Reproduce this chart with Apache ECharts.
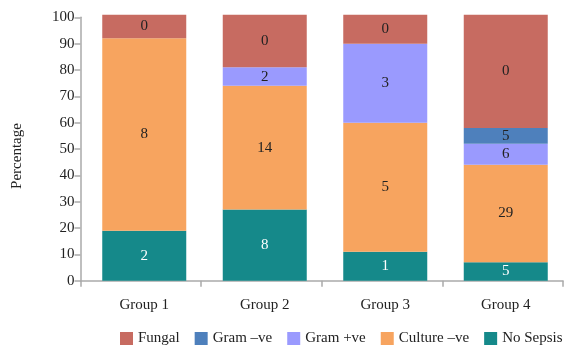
<!DOCTYPE html>
<html>
<head>
<meta charset="utf-8">
<script src="https://cdn.jsdelivr.net/npm/echarts@6/dist/echarts.min.js"></script>
<style>
  html, body { margin: 0; padding: 0; background: #fff; }
  #chart { width: 566px; height: 348px; }
</style>
</head>
<body>
<div id="chart"></div>
<script>
// Categories
var groups = ['Group 1', 'Group 2', 'Group 3', 'Group 4'];

// Share of each outcome per group (percent, rounded)
var noSepsisPct = [19, 27, 11, 7];
var cultureNegPct = [73, 47, 49, 37];
var gramPosPct = [0, 7, 30, 8];
var gramNegPct = [0, 0, 0, 6];
var fungalPct = [9, 20, 11, 43];

// Patient counts printed on each segment
var noSepsisN = [2, 8, 1, 5];
var cultureNegN = [8, 14, 5, 29];
var gramPosN = [0, 2, 3, 6];
var gramNegN = [0, 0, 0, 5];
var fungalN = [0, 0, 0, 0];

// Axis ticks
var yMin = 0, yMax = 100, yStep = 10;

var seriesNames = ['Fungal', 'Gram \u2013ve', 'Gram +ve', 'Culture \u2013ve', 'No Sepsis'];
var colors = {
  'Fungal': '#C76B61',
  'Gram \u2013ve': '#4E80BC',
  'Gram +ve': '#9A9AFE',
  'Culture \u2013ve': '#F7A45F',
  'No Sepsis': '#15898A'
};

var FONT = '"Liberation Serif", "DejaVu Serif", serif';

function makeSeries(name, pct, counts, labelColor) {
  return {
    name: name,
    type: 'bar',
    stack: 'total',
    xAxisIndex: 1,
    yAxisIndex: 1,
    barWidth: 84,
    clip: false,
    itemStyle: { color: colors[name] },
    label: {
      show: true,
      position: 'inside',
      color: labelColor,
      fontFamily: FONT,
      fontSize: 15,
      formatter: function (p) {
        return pct[p.dataIndex] > 0 ? String(counts[p.dataIndex]) : '';
      }
    },
    emphasis: { disabled: true },
    data: pct
  };
}

var chart = echarts.init(document.getElementById('chart'), null, { renderer: 'canvas' });

chart.setOption({
  animation: false,
  backgroundColor: '#fff',
  textStyle: { fontFamily: FONT },
  grid: [
    { left: 80.5, right: 3, top: 17.3, bottom: 67.3 },
    { left: 84, right: -0.5, top: 17.3, bottom: 67.3 }
  ],
  legend: {
    data: seriesNames,
    top: 331,
    left: 120,
    width: 446,
    itemWidth: 13,
    itemHeight: 13,
    itemGap: 15,
    icon: 'rect',
    padding: 0,
    textStyle: { fontFamily: FONT, fontSize: 15, color: '#222' }
  },
  xAxis: [
    {
      type: 'category',
      gridIndex: 0,
      data: groups,
      axisLine: { show: true, lineStyle: { color: '#aaaaaa', width: 1.5 } },
      axisTick: { show: true, length: 6, lineStyle: { color: '#aaaaaa', width: 1.5 } },
      axisLabel: { show: false }
    },
    {
      type: 'category',
      gridIndex: 1,
      data: groups,
      axisLine: { show: false },
      axisTick: { show: false },
      axisLabel: {
        show: true,
        margin: 17,
        fontFamily: FONT,
        fontSize: 15,
        color: '#222'
      }
    }
  ],
  yAxis: [
    {
      type: 'value',
      gridIndex: 0,
      min: yMin,
      max: yMax,
      interval: yStep,
      name: 'Percentage',
      nameLocation: 'middle',
      nameGap: 56,
      nameRotate: 90,
      nameTextStyle: { fontFamily: FONT, fontSize: 15, color: '#222', padding: [0, 0, 0, -14] },
      axisLine: { show: true, lineStyle: { color: '#aaaaaa', width: 1.5 } },
      axisTick: { show: true, length: 6, lineStyle: { color: '#aaaaaa', width: 1.5 } },
      axisLabel: { margin: 6, fontFamily: FONT, fontSize: 15, color: '#222' },
      splitLine: { show: false }
    },
    {
      type: 'value',
      gridIndex: 1,
      min: yMin,
      max: yMax,
      interval: yStep,
      show: false,
      splitLine: { show: false }
    }
  ],
  series: [
    makeSeries('No Sepsis', noSepsisPct, noSepsisN, '#ffffff'),
    makeSeries('Culture \u2013ve', cultureNegPct, cultureNegN, '#222222'),
    makeSeries('Gram +ve', gramPosPct, gramPosN, '#222222'),
    makeSeries('Gram \u2013ve', gramNegPct, gramNegN, '#222222'),
    makeSeries('Fungal', fungalPct, fungalN, '#222222')
  ]
});
</script>
</body>
</html>
